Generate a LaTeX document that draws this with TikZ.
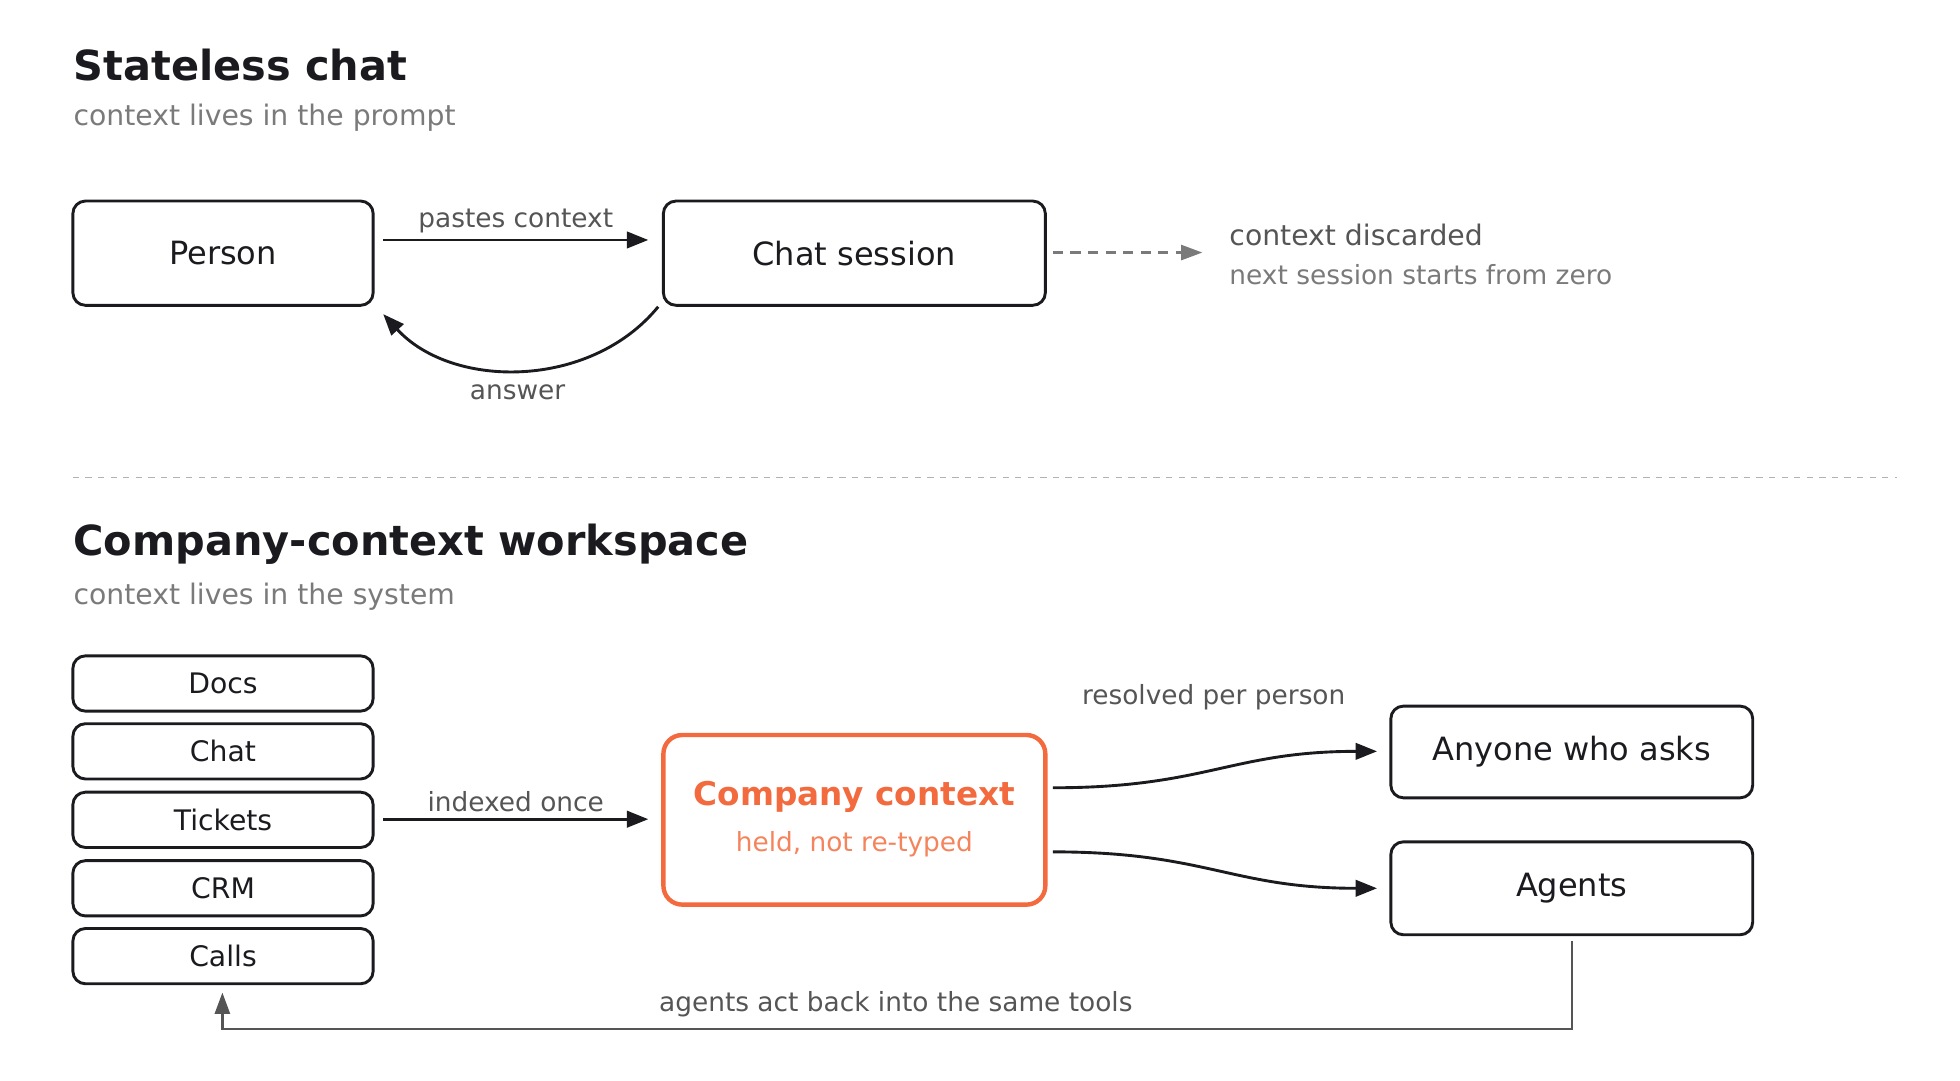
\documentclass[tikz,border=0pt]{standalone}
\usepackage{fontspec}
\setmainfont{DejaVu Sans}
\usetikzlibrary{arrows.meta}
\definecolor{ink}{HTML}{1A1A1F}
\definecolor{sub}{HTML}{7A7A7A}
\definecolor{lab}{HTML}{555555}
\definecolor{org}{HTML}{F26A3D}
\definecolor{orgl}{HTML}{F4845C}
\begin{document}
\begin{tikzpicture}[x=1pt,y=-1pt,
  box/.style={draw=ink,line width=2.3pt,rounded corners=10pt,inner sep=0pt},
  arr/.style={draw=ink,line width=2.3pt,-{Triangle[length=17pt,width=13pt]}},
  title/.style={font=\fontsize{33}{38}\selectfont\bfseries,text=ink,anchor=west},
  subt/.style={font=\fontsize{22.5}{26}\selectfont,text=sub,anchor=west},
  lbl/.style={font=\fontsize{21}{25}\selectfont,text=lab},
  ntext/.style={font=\fontsize{25.5}{30}\selectfont,text=ink}]
\useasboundingbox (0,0) rectangle (1560,860);
\node[title] at (55,52) {Stateless chat};
\node[subt] at (55,94) {context lives in the prompt};
\node[box,minimum width=239pt,minimum height=83pt,ntext] (person) at (177.5,201.5) {Person};
\node[box,minimum width=304pt,minimum height=83pt,ntext] (chat) at (680,201.5) {Chat session};
\draw[arr] (305,191) -- node[lbl,above=1pt]{pastes context} (516,191);
\draw[arr] (chat.south west) ++(-3,0) coordinate (c1) .. controls (470,310) and (360,310) .. (305,250) coordinate (c2);
\node[lbl] (ans) at (412,312) {answer};
\coordinate (d1) at (838,201); \coordinate (d2) at (957,201);
\draw[sub,line width=2pt,dash pattern=on 8pt off 6pt,-{Triangle[length=17pt,width=12pt]}] (d1) -- (d2);
\node[font=\fontsize{22.5}{26}\selectfont,text=lab,anchor=west] at (975,187) {context discarded};
\node[font=\fontsize{21}{25}\selectfont,text=sub,anchor=west] at (975,219) {next session starts from zero};
\draw[gray!60,line width=1.4pt,dash pattern=on 5pt off 5pt] (58,380) -- (1510,380);
\node[title] at (55,433) {Company-context workspace};
\node[subt] at (55,475) {context lives in the system};
\foreach \n/\t/\y in {docs/Docs/544,chat2/Chat/598,tick/Tickets/652.5,crm/CRM/707,calls/Calls/761}
  \node[box,minimum width=239pt,minimum height=44pt,font=\fontsize{22.5}{26}\selectfont,text=ink] (\n) at (177.5,\y) {\t};
\draw[arr] (305,652) -- node[lbl,above=1pt]{indexed once} (516,652);
\node[draw=org,line width=3.5pt,rounded corners=15pt,minimum width=304pt,minimum height=135pt] (cc) at (680,652.5) {};
\node[font=\fontsize{26}{30}\selectfont\bfseries,text=org] at (680,634) {Company context};
\node[font=\fontsize{21}{25}\selectfont,text=orgl] at (680,672) {held, not re-typed};
\node[box,minimum width=288pt,minimum height=73pt,ntext] (any) at (1251,598.5) {Anyone who asks};
\node[box,minimum width=288pt,minimum height=74pt,ntext] (ag) at (1251,707) {Agents};
\draw[arr] (838,627) .. controls (960,627) and (980,598) .. (1096,598);
\draw[arr] (838,678) .. controls (960,678) and (980,707) .. (1096,707);
\node[lbl] at (966,555) {resolved per person};
\draw[lab,line width=2pt,-{Triangle[length=17pt,width=12pt]}] (ag.south) ++(0,4) |- (177,819) -- (177,790);
\node[lbl] at (713,799) {agents act back into the same tools};
\end{tikzpicture}
\end{document}
